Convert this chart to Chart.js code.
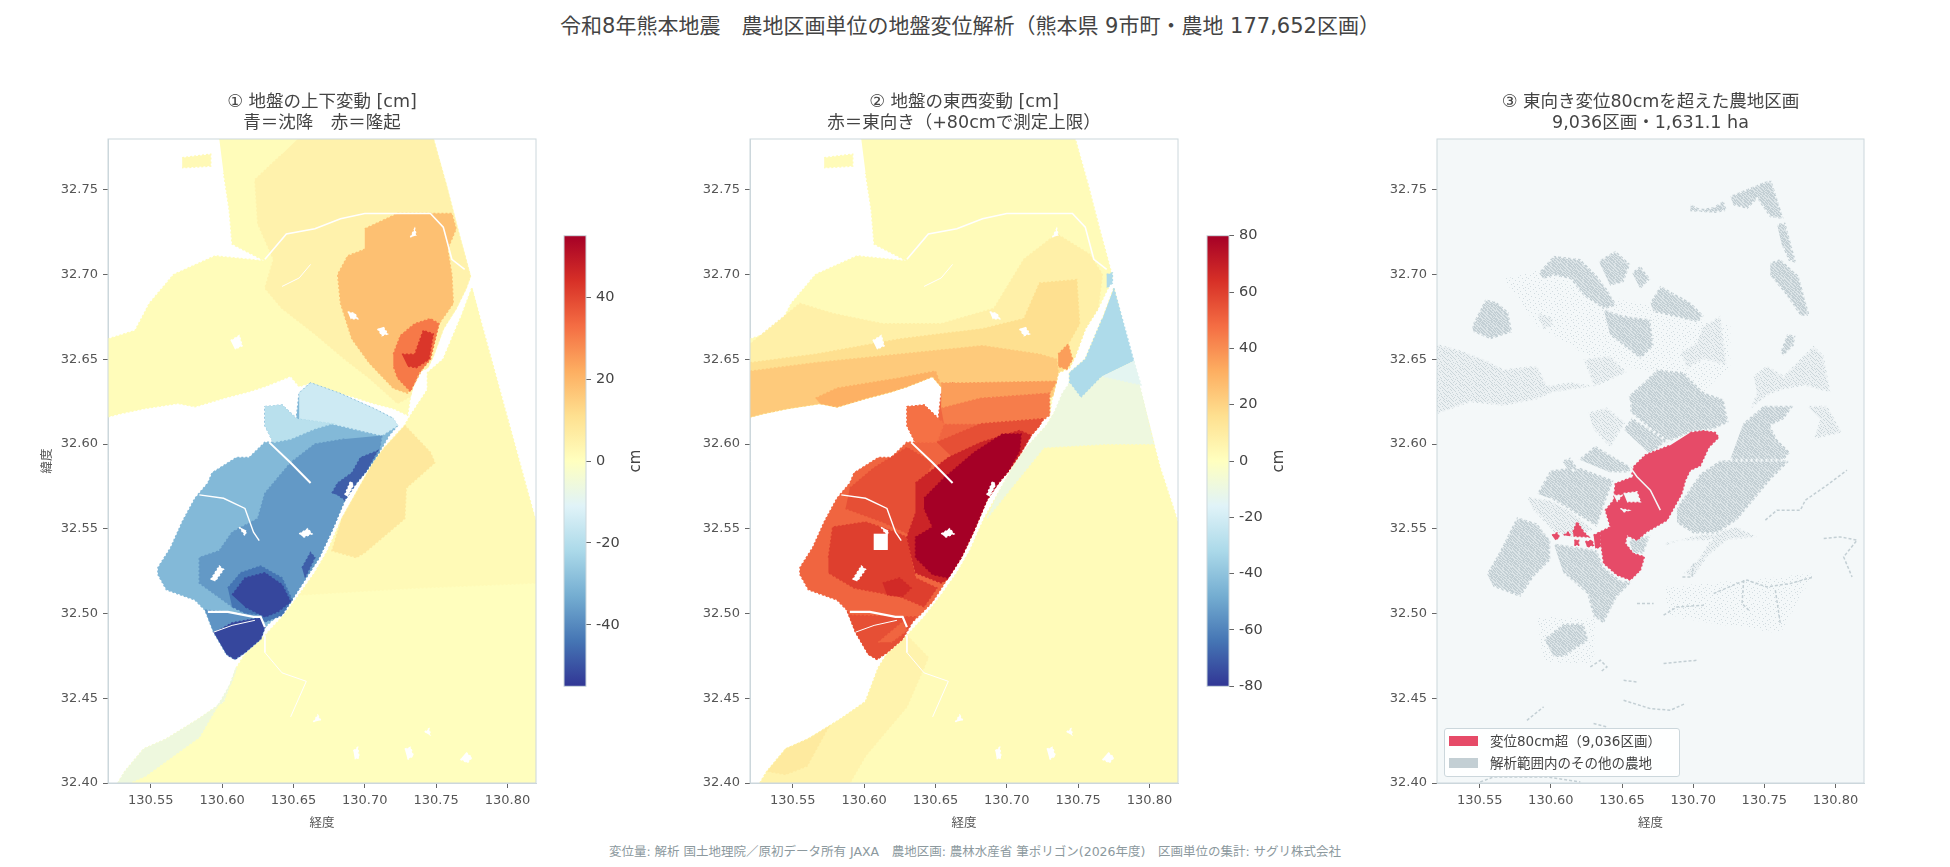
<!DOCTYPE html>
<html lang="ja">
<head>
<meta charset="utf-8">
<title>令和8年熊本地震 地盤変位解析</title>
<script src="https://cdn.jsdelivr.net/npm/chart.js@4/dist/chart.umd.min.js"></script>
<style>
  html, body { margin: 0; padding: 0; background: #fff; width: 1950px; height: 867px; overflow: hidden; }
  body { font-family: "DejaVu Sans", "Noto Sans CJK JP", sans-serif; position: relative; }
  .box { position: absolute; }
  #suptitle { position: absolute; left: 0; width: 1940px; top: 12px; text-align: center; font-size: 21px; line-height: 28px; color: #444; }
  #source { position: absolute; left: 0; width: 1950px; top: 843px; text-align: center; font-size: 12.5px; line-height: 17px; color: #8c999e; }
  #legend { position: absolute; left: 1444px; top: 728px; width: 234px; height: 47px; background: rgba(255,255,255,.9); border: 1px solid #ccd7dc; border-radius: 3px; font-size: 13.5px; color: #444; }
  #legend div { position: absolute; left: 45px; line-height: 20px; white-space: nowrap; }
  #legend i { position: absolute; left: 4px; width: 29px; height: 10px; }
</style>
</head>
<body>
<div id="suptitle">令和8年熊本地震　農地区画単位の地盤変位解析（熊本県 9市町・農地 177,652区画）</div>
<div class="box" style="left:0;top:80px;width:644px;height:753px"><canvas id="panelVertical"></canvas></div>
<div class="box" style="left:642px;top:80px;width:644px;height:753px"><canvas id="panelEast"></canvas></div>
<div class="box" style="left:1352px;top:80px;width:597px;height:753px"><canvas id="panelOver"></canvas></div>
<div class="box" style="left:556px;top:222px;width:100px;height:478px"><canvas id="barVertical"></canvas></div>
<div class="box" style="left:1199px;top:222px;width:100px;height:478px"><canvas id="barEast"></canvas></div>
<div id="legend">
  <i style="top:7px;background:#e64b68"></i><div style="top:2px">変位80cm超（9,036区画）</div>
  <i style="top:29px;background:#c3cfd4"></i><div style="top:24px">解析範囲内のその他の農地</div>
</div>
<div id="source">変位量: 解析 国土地理院／原初データ所有 JAXA　農地区画: 農林水産省 筆ポリゴン(2026年度)　区画単位の集計: サグリ株式会社</div>

<script>
const lonTicks = [130.55, 130.6, 130.65, 130.7, 130.75, 130.8];
const latTicks = [32.4, 32.45, 32.5, 32.55, 32.6, 32.65, 32.7, 32.75];
const verticalBarTicks = [-40, -20, 0, 20, 40];
const eastBarTicks = [-80, -60, -40, -20, 0, 20, 40, 60, 80];
const rdYlBu = ["#313695", "#4575b4", "#74add1", "#abd9e9", "#e0f3f8", "#ffffbf", "#fee090", "#fdae61", "#f46d43", "#d73027", "#a50026"];

// land outlines, [lon, lat]
const landNorth = [[130.598,32.78],[130.748,32.78],[130.757,32.753],[130.765,32.727],[130.774,32.699],[130.771,32.692],[130.764,32.68],[130.755,32.668],[130.748,32.652],[130.744,32.645],[130.736,32.642],[130.732,32.628],[130.73,32.617],[130.72,32.621],[130.706,32.624],[130.691,32.628],[130.677,32.631],[130.662,32.636],[130.654,32.634],[130.648,32.64],[130.63,32.634],[130.619,32.631],[130.601,32.627],[130.581,32.622],[130.569,32.624],[130.546,32.621],[130.529,32.618],[130.52,32.616],[130.52,32.662],[130.539,32.667],[130.549,32.683],[130.566,32.7],[130.595,32.711],[130.63,32.708],[130.607,32.718],[130.605,32.738],[130.601,32.76]];
const landSouthEast = [[130.82,32.4],[130.82,32.554],[130.8075,32.586],[130.793,32.633],[130.784,32.662],[130.775,32.692],[130.767,32.674],[130.761,32.662],[130.755,32.65],[130.744,32.642],[130.744,32.632],[130.733,32.618],[130.728,32.611],[130.715,32.599],[130.706,32.589],[130.694,32.571],[130.684,32.556],[130.674,32.537],[130.665,32.524],[130.654,32.511],[130.642,32.498],[130.63,32.487],[130.616,32.476],[130.61,32.468],[130.601,32.448],[130.584,32.438],[130.561,32.426],[130.545,32.42],[130.532,32.407],[130.527,32.4]];
const landSouthWest = [[130.723,32.611],[130.717,32.605],[130.71,32.595],[130.701,32.584],[130.694,32.577],[130.686,32.567],[130.677,32.549],[130.668,32.533],[130.658,32.52],[130.648,32.507],[130.639,32.499],[130.63,32.492],[130.627,32.485],[130.616,32.477],[130.609,32.473],[130.603,32.476],[130.594,32.489],[130.588,32.502],[130.581,32.508],[130.561,32.514],[130.555,32.523],[130.555,32.527],[130.564,32.539],[130.572,32.554],[130.581,32.568],[130.59,32.577],[130.593,32.583],[130.61,32.592],[130.619,32.592],[130.63,32.601],[130.636,32.601],[130.63,32.611],[130.63,32.622],[130.642,32.623],[130.652,32.615],[130.654,32.63],[130.662,32.636],[130.682,32.63],[130.706,32.621],[130.72,32.615]];
const islandNorth = [[130.572,32.769],[130.592,32.771],[130.592,32.764],[130.572,32.763]];

// panel 1 zones
const upNorthPale = [[130.653,32.78],[130.748,32.78],[130.757,32.753],[130.765,32.727],[130.774,32.699],[130.771,32.692],[130.764,32.68],[130.755,32.668],[130.748,32.652],[130.744,32.645],[130.736,32.642],[130.732,32.628],[130.723,32.624],[130.703,32.639],[130.686,32.65],[130.665,32.665],[130.642,32.68],[130.63,32.692],[130.636,32.709],[130.625,32.73],[130.623,32.756],[130.642,32.771]];
const upNorthMid = [[130.7,32.727],[130.723,32.736],[130.761,32.736],[130.764,32.727],[130.758,32.715],[130.761,32.7],[130.762,32.683],[130.752,32.671],[130.744,32.65],[130.735,32.636],[130.73,32.63],[130.72,32.633],[130.703,32.648],[130.691,32.662],[130.683,32.683],[130.681,32.7],[130.688,32.711],[130.7,32.715]];
const upNorthInner = [[130.72,32.653],[130.725,32.664],[130.735,32.671],[130.746,32.674],[130.752,32.671],[130.746,32.65],[130.738,32.642],[130.732,32.631],[130.723,32.639],[130.72,32.646]];
const upNorthCore = [[130.726,32.653],[130.735,32.653],[130.741,32.667],[130.748,32.665],[130.745,32.65],[130.736,32.645],[130.73,32.646]];
const upEastRim = [[130.775,32.692],[130.82,32.554],[130.82,32.518],[130.735,32.515],[130.654,32.511],[130.665,32.524],[130.674,32.537],[130.684,32.556],[130.694,32.571],[130.706,32.589],[130.715,32.599],[130.728,32.611],[130.733,32.618],[130.744,32.632],[130.744,32.642],[130.755,32.65],[130.761,32.662],[130.767,32.674]];
const upEastPatch = [[130.728,32.611],[130.746,32.595],[130.749,32.589],[130.729,32.574],[130.728,32.556],[130.7,32.536],[130.694,32.533],[130.677,32.537],[130.684,32.556],[130.694,32.571],[130.706,32.589],[130.715,32.599]];
const upWestStrip = [[130.527,32.4],[130.532,32.407],[130.545,32.42],[130.561,32.426],[130.584,32.438],[130.601,32.448],[130.61,32.468],[130.607,32.46],[130.584,32.427],[130.546,32.404],[130.535,32.4]];
const downTopLight = [[130.654,32.63],[130.662,32.636],[130.682,32.63],[130.706,32.621],[130.72,32.615],[130.723,32.611],[130.712,32.605],[130.677,32.612],[130.654,32.615]];
const downLeftLight = [[130.63,32.622],[130.642,32.623],[130.652,32.615],[130.677,32.612],[130.665,32.609],[130.648,32.603],[130.636,32.601],[130.63,32.611]];
const downMid = [[130.712,32.605],[130.71,32.595],[130.701,32.584],[130.694,32.577],[130.686,32.567],[130.677,32.549],[130.668,32.533],[130.658,32.52],[130.648,32.507],[130.639,32.499],[130.63,32.501],[130.607,32.504],[130.584,32.518],[130.584,32.533],[130.598,32.537],[130.607,32.548],[130.625,32.556],[130.63,32.571],[130.648,32.589],[130.665,32.6],[130.686,32.603]];
const downCoastA = [[130.677,32.571],[130.681,32.577],[130.691,32.583],[130.697,32.592],[130.709,32.596],[130.701,32.584],[130.694,32.577],[130.686,32.567],[130.681,32.57]];
const downCoastB = [[130.656,32.527],[130.662,32.536],[130.665,32.533],[130.658,32.521]];
const downBlobOuter = [[130.604,32.515],[130.613,32.524],[130.627,32.528],[130.642,32.521],[130.649,32.508],[130.642,32.499],[130.63,32.495],[130.619,32.499],[130.607,32.504]];
const downBlobInner = [[130.607,32.511],[130.616,32.521],[130.63,32.524],[130.642,32.517],[130.648,32.507],[130.639,32.501],[130.63,32.498],[130.616,32.504]];
const downSouthPiece = [[130.594,32.489],[130.607,32.495],[130.627,32.498],[130.63,32.492],[130.627,32.485],[130.616,32.477],[130.609,32.473],[130.603,32.476]];
const downSouthStrip = [[130.588,32.502],[130.627,32.499],[130.627,32.498],[130.607,32.495],[130.594,32.489]];

// panel 2 zones
const eastBandA = [[130.52,32.659],[130.555,32.683],[130.578,32.677],[130.613,32.671],[130.654,32.671],[130.691,32.68],[130.712,32.709],[130.735,32.724],[130.758,32.712],[130.767,32.7],[130.764,32.68],[130.755,32.668],[130.748,32.652],[130.744,32.645],[130.736,32.642],[130.732,32.628],[130.706,32.624],[130.691,32.628],[130.677,32.631],[130.662,32.636],[130.654,32.634],[130.648,32.64],[130.63,32.634],[130.619,32.631],[130.601,32.627],[130.581,32.622],[130.569,32.624],[130.546,32.621],[130.529,32.618],[130.52,32.616]];
const eastBandB = [[130.52,32.648],[130.566,32.653],[130.625,32.662],[130.683,32.668],[130.712,32.674],[130.723,32.695],[130.749,32.697],[130.751,32.671],[130.741,32.656],[130.736,32.649],[130.74,32.644],[130.736,32.642],[130.732,32.628],[130.706,32.624],[130.691,32.628],[130.677,32.631],[130.662,32.636],[130.654,32.634],[130.648,32.64],[130.63,32.634],[130.619,32.631],[130.601,32.627],[130.581,32.622],[130.569,32.624],[130.546,32.621],[130.529,32.618],[130.52,32.616]];
const eastBandC = [[130.52,32.643],[130.566,32.648],[130.625,32.653],[130.683,32.658],[130.723,32.653],[130.735,32.65],[130.736,32.642],[130.732,32.628],[130.706,32.624],[130.691,32.628],[130.677,32.631],[130.662,32.636],[130.654,32.634],[130.648,32.64],[130.63,32.634],[130.619,32.631],[130.601,32.627],[130.581,32.622],[130.569,32.624],[130.546,32.621],[130.529,32.618],[130.52,32.616]];
const eastBandD = [[130.566,32.627],[130.581,32.633],[130.625,32.639],[130.65,32.643],[130.654,32.634],[130.648,32.64],[130.63,32.634],[130.619,32.631],[130.601,32.627],[130.581,32.622],[130.569,32.624]];
const eastSpot = [[130.736,32.653],[130.743,32.659],[130.746,32.65],[130.742,32.644],[130.736,32.646]];
const eastTop36 = [[130.654,32.636],[130.668,32.636],[130.735,32.637],[130.73,32.63],[130.682,32.627],[130.654,32.621]];
const eastTop44 = [[130.654,32.621],[130.682,32.627],[130.73,32.63],[130.73,32.617],[130.72,32.611],[130.682,32.612],[130.656,32.612]];
const eastLeft47 = [[130.63,32.622],[130.642,32.623],[130.652,32.615],[130.656,32.612],[130.651,32.601],[130.636,32.601],[130.63,32.611]];
const eastBand56 = [[130.651,32.601],[130.682,32.612],[130.726,32.615],[130.723,32.611],[130.717,32.605],[130.682,32.601],[130.662,32.592]];
const eastBand68 = [[130.636,32.577],[130.659,32.592],[130.682,32.601],[130.709,32.608],[130.717,32.605],[130.71,32.595],[130.701,32.584],[130.694,32.577],[130.686,32.567],[130.677,32.549],[130.668,32.533],[130.658,32.52],[130.654,32.518],[130.636,32.524],[130.63,32.545],[130.636,32.559]];
const eastCore80 = [[130.642,32.568],[130.656,32.58],[130.677,32.595],[130.697,32.606],[130.71,32.606],[130.709,32.596],[130.701,32.584],[130.694,32.577],[130.686,32.567],[130.677,32.549],[130.668,32.533],[130.659,32.521],[130.648,32.523],[130.636,32.533],[130.636,32.545],[130.648,32.551],[130.642,32.562]];
const eastWest60 = [[130.575,32.533],[130.578,32.551],[130.601,32.554],[130.622,32.548],[130.63,32.545],[130.636,32.521],[130.651,32.515],[130.642,32.504],[130.625,32.51],[130.593,32.515],[130.575,32.524]];
const eastInner66 = [[130.613,32.518],[130.625,32.521],[130.633,32.515],[130.627,32.51],[130.616,32.511]];
const eastNorth56 = [[130.59,32.574],[130.607,32.586],[130.63,32.598],[130.648,32.589],[130.639,32.574],[130.636,32.545],[130.613,32.554],[130.587,32.562]];
const eastSouth56 = [[130.59,32.499],[130.636,32.498],[130.627,32.485],[130.616,32.477],[130.609,32.473],[130.603,32.476],[130.594,32.489],[130.588,32.502]];
const eastSouth50 = [[130.61,32.483],[130.627,32.495],[130.63,32.49],[130.619,32.483]];
const eastBlue = [[130.775,32.692],[130.789,32.649],[130.767,32.64],[130.752,32.627],[130.744,32.636],[130.744,32.642],[130.755,32.65],[130.761,32.662],[130.767,32.674]];
const eastBlueTip = [[130.77,32.7],[130.774,32.701],[130.774,32.695],[130.77,32.692]];
const eastPaleBand = [[130.789,32.649],[130.803,32.6],[130.77,32.6],[130.726,32.598],[130.706,32.577],[130.686,32.556],[130.694,32.571],[130.706,32.589],[130.715,32.599],[130.728,32.611],[130.733,32.618],[130.739,32.63],[130.744,32.636],[130.752,32.627],[130.767,32.64]];
const eastPaleBlue = [[130.789,32.649],[130.794,32.635],[130.767,32.64]];
const eastSouthPale = [[130.527,32.4],[130.532,32.407],[130.545,32.42],[130.561,32.426],[130.584,32.438],[130.601,32.448],[130.61,32.468],[130.616,32.476],[130.63,32.487],[130.645,32.474],[130.63,32.445],[130.601,32.416],[130.59,32.4]];
const eastSouthWarm = [[130.545,32.42],[130.561,32.426],[130.575,32.433],[130.56,32.41],[130.545,32.405],[130.532,32.407]];
const eastHole = [[130.6067,32.5471],[130.6166,32.5471],[130.6166,32.5375],[130.6067,32.5375]];

// rivers and gaps, shared by panels 1 and 2
const riverNorth = [[130.63,32.709],[130.645,32.724],[130.665,32.727],[130.683,32.733],[130.7,32.736],[130.723,32.736],[130.746,32.736],[130.755,32.728],[130.761,32.709],[130.77,32.703]];
const riverTributary = [[130.642,32.693],[130.654,32.698],[130.662,32.706]];
const riverDiagonal = [[130.633,32.601],[130.648,32.589],[130.662,32.577]];
const riverWest = [[130.584,32.57],[130.601,32.568],[130.616,32.562],[130.622,32.548],[130.626,32.543]];
const riverSouth = [[130.59,32.501],[130.604,32.501],[130.622,32.498],[130.627,32.498],[130.63,32.492]];
const riverSouthBranch = [[130.594,32.489],[130.607,32.493],[130.623,32.496]];
const riverSouthEast = [[130.63,32.487],[130.63,32.477],[130.642,32.465],[130.659,32.46],[130.648,32.439]];
const holeSpots = [
  [[130.767,32.414],[130.772,32.412],[130.775,32.415],[130.771,32.418]],
  [[130.728,32.42],[130.732,32.421],[130.734,32.416],[130.73,32.414]],
  [[130.692,32.419],[130.695,32.421],[130.696,32.415],[130.693,32.414]],
  [[130.742,32.43],[130.745,32.432],[130.746,32.428]],
  [[130.664,32.436],[130.667,32.44],[130.669,32.437]],
  [[130.606,32.661],[130.612,32.664],[130.614,32.658],[130.609,32.656]],
  [[130.709,32.668],[130.712,32.664],[130.716,32.665],[130.713,32.669]],
  [[130.688,32.678],[130.693,32.677],[130.695,32.674],[130.69,32.674]],
  [[130.732,32.722],[130.735,32.727],[130.736,32.723]],
  [[130.654,32.547],[130.66,32.55],[130.663,32.547],[130.657,32.545]],
  [[130.592,32.52],[130.598,32.528],[130.601,32.526],[130.595,32.519]],
  [[130.686,32.57],[130.69,32.578],[130.692,32.576],[130.688,32.569]],
  [[130.612,32.551],[130.616,32.546],[130.617,32.549]],
];

// panel 3 farmland clusters
const farmDense = [
  [[130.726,32.7465],[130.738,32.7505],[130.752,32.7554],[130.755,32.7554],[130.7636,32.7328],[130.754,32.7338],[130.745,32.7446],[130.738,32.7387],[130.7284,32.7407]],
  [[130.698,32.7416],[130.705,32.7387],[130.714,32.7397],[130.7214,32.7436],[130.7237,32.7377],[130.7155,32.7363],[130.698,32.7373]],
  [[130.7589,32.7298],[130.7647,32.7308],[130.7725,32.7068],[130.7671,32.7082],[130.7624,32.717]],
  [[130.7542,32.7072],[130.7612,32.7092],[130.7741,32.6993],[130.7818,32.6757],[130.7753,32.6757],[130.7647,32.6885],[130.7542,32.6993]],
  [[130.5446,32.6698],[130.554,32.6855],[130.5622,32.6836],[130.5703,32.6777],[130.5727,32.6659],[130.5575,32.6619],[130.5458,32.6659]],
  [[130.5914,32.7013],[130.602,32.7111],[130.6207,32.7092],[130.6324,32.6993],[130.6394,32.6915],[130.6465,32.6816],[130.6371,32.6796],[130.623,32.6875],[130.6137,32.6974],[130.602,32.6993],[130.5949,32.6974]],
  [[130.6336,32.7082],[130.6453,32.7141],[130.6558,32.7062],[130.6511,32.6954],[130.6418,32.6934]],
  [[130.657,32.7013],[130.6629,32.7052],[130.6699,32.6974],[130.6629,32.6915]],
  [[130.6699,32.6836],[130.6769,32.6934],[130.698,32.6836],[130.7074,32.6757],[130.7027,32.6718],[130.6839,32.6757],[130.6722,32.6777]],
  [[130.6371,32.6796],[130.6511,32.6757],[130.6699,32.6737],[130.6722,32.658],[130.6629,32.6501],[130.6511,32.658],[130.6418,32.6639]],
  [[130.6547,32.6285],[130.6675,32.6383],[130.6746,32.6442],[130.6933,32.6423],[130.7074,32.6305],[130.7214,32.6265],[130.7249,32.6127],[130.7144,32.6088],[130.698,32.6068],[130.6816,32.6009],[130.6558,32.6186],[130.6558,32.6246]],
  [[130.6511,32.6088],[130.657,32.6157],[130.6816,32.6019],[130.6699,32.594]],
  [[130.7612,32.6541],[130.7659,32.6649],[130.7718,32.6639],[130.7706,32.658],[130.7636,32.6521]],
  [[130.5551,32.5236],[130.5645,32.5374],[130.5762,32.557],[130.5903,32.5531],[130.5996,32.5433],[130.5996,32.5315],[130.5879,32.5216],[130.5785,32.5098],[130.5598,32.5157]],
  [[130.5903,32.5708],[130.5996,32.5846],[130.6184,32.5866],[130.6441,32.5787],[130.6371,32.563],[130.6324,32.5511],[130.6137,32.561],[130.5996,32.5679]],
  [[130.6195,32.5911],[130.6312,32.599],[130.657,32.5862],[130.6547,32.5832],[130.6418,32.5832]],
  [[130.6078,32.5901],[130.6137,32.5921],[130.6184,32.5862],[130.6137,32.5832]],
  [[130.602,32.5413],[130.6184,32.5393],[130.6324,32.5374],[130.6371,32.5275],[130.6488,32.5197],[130.657,32.5187],[130.6465,32.5098],[130.6371,32.4941],[130.63,32.498],[130.6254,32.5118],[130.609,32.5236]],
  [[130.6547,32.5433],[130.6699,32.5462],[130.6652,32.5354],[130.6582,32.5354]],
  [[130.5954,32.4852],[130.609,32.4941],[130.623,32.4941],[130.6266,32.4842],[130.609,32.4744],[130.602,32.4744]],
  [[130.7355,32.6127],[130.7495,32.6226],[130.7706,32.6226],[130.7636,32.6147],[130.7542,32.6108],[130.7589,32.6029],[130.7682,32.595],[130.7589,32.5862],[130.7355,32.5852],[130.7261,32.5911]],
  [[130.6886,32.5629],[130.705,32.5826],[130.7191,32.5905],[130.7682,32.5905],[130.7542,32.5787],[130.7425,32.5669],[130.7308,32.5551],[130.7167,32.5472],[130.7003,32.5472],[130.6886,32.5531]],
];
const farmSparse = [
  [[130.52,32.659],[130.534,32.656],[130.5528,32.6501],[130.5668,32.6442],[130.5903,32.6462],[130.5973,32.6344],[130.6137,32.6364],[130.63,32.6344],[130.623,32.6501],[130.6418,32.6521],[130.6535,32.6423],[130.6324,32.6344],[130.602,32.6305],[130.5903,32.6265],[130.5668,32.6226],[130.5434,32.6246],[130.52,32.6177]],
  [[130.5903,32.6777],[130.6008,32.6747],[130.602,32.6698],[130.5949,32.6678]],
  [[130.7074,32.6698],[130.7191,32.6757],[130.7214,32.6619],[130.7237,32.6462],[130.7074,32.6501],[130.6956,32.6442],[130.691,32.6541],[130.7027,32.66]],
  [[130.6266,32.6186],[130.6394,32.6216],[130.6523,32.6127],[130.6418,32.598],[130.63,32.6088]],
  [[130.7425,32.6403],[130.7518,32.6462],[130.7636,32.6403],[130.7846,32.658],[130.7917,32.6521],[130.7963,32.6305],[130.7776,32.6344],[130.7636,32.6324],[130.7518,32.6285],[130.7401,32.6206],[130.7448,32.6305]],
  [[130.78,32.6226],[130.794,32.6226],[130.8045,32.6068],[130.7846,32.6029],[130.7893,32.6147]],
  [[130.5832,32.5689],[130.5996,32.5669],[130.6137,32.561],[130.63,32.5492],[130.6137,32.5452],[130.602,32.5482],[130.5879,32.561]],
  [[130.6792,32.5413],[130.698,32.5452],[130.7191,32.5492],[130.7308,32.5511],[130.7448,32.5452],[130.7237,32.5433],[130.7097,32.5334],[130.7003,32.5216],[130.6933,32.5236],[130.705,32.5334],[130.712,32.5433],[130.691,32.5433],[130.6816,32.5403]],
];
const farmFaint = [
  [[130.5668,32.6974],[130.5903,32.7033],[130.6371,32.6875],[130.6722,32.6816],[130.7074,32.6737],[130.7261,32.6698],[130.7261,32.6442],[130.7074,32.6305],[130.6699,32.6423],[130.6511,32.6462],[130.6254,32.6521],[130.5903,32.6698]],
  [[130.6792,32.5157],[130.7846,32.5236],[130.7612,32.4882],[130.6839,32.498]],
  [[130.5903,32.498],[130.6324,32.498],[130.63,32.4705],[130.5949,32.4705]],
];
const farmTrails = [
  [[130.7507,32.5551],[130.7589,32.561],[130.7753,32.561],[130.7788,32.5669],[130.794,32.5757],[130.808,32.5846]],
  [[130.7917,32.5443],[130.8034,32.5452],[130.8151,32.5433],[130.8057,32.5334],[130.8116,32.5216]],
  [[130.7144,32.5118],[130.7308,32.5177],[130.7378,32.5197],[130.7518,32.5157],[130.7682,32.5177],[130.7846,32.5216]],
  [[130.7355,32.5197],[130.7343,32.5059],[130.739,32.502]],
  [[130.7577,32.5138],[130.7612,32.4941]],
  [[130.6277,32.4685],[130.6348,32.4724],[130.6394,32.4685],[130.6348,32.4655]],
  [[130.6792,32.4705],[130.691,32.4715],[130.7027,32.4724]],
  [[130.6511,32.4488],[130.6699,32.4439],[130.6839,32.4429],[130.6945,32.4469]],
  [[130.6511,32.4606],[130.6605,32.4596]],
  [[130.5832,32.437],[130.5949,32.4449]],
  [[130.5504,32.4006],[130.5598,32.4036],[130.5973,32.4036],[130.6207,32.4006]],
  [[130.6605,32.5059],[130.6722,32.5059]],
  [[130.6792,32.499],[130.6886,32.5039],[130.7074,32.5049]],
  [[130.63,32.4351],[130.6394,32.4331]],
  [[130.7003,32.5295],[130.6991,32.5216],[130.6921,32.5216]],
];
const overMain = [[130.698,32.6068],[130.7074,32.6078],[130.7155,32.6068],[130.7179,32.6039],[130.7109,32.598],[130.705,32.5872],[130.698,32.5846],[130.6945,32.5787],[130.692,32.5708],[130.6816,32.5551],[130.6675,32.5482],[130.6605,32.5433],[130.6535,32.5462],[130.6523,32.5413],[130.658,32.5354],[130.6657,32.5335],[130.6629,32.5256],[130.6558,32.5198],[130.6465,32.5227],[130.6371,32.5296],[130.6348,32.5433],[130.6348,32.5482],[130.6418,32.5511],[130.6383,32.561],[130.6441,32.5669],[130.6453,32.5767],[130.6582,32.5807],[130.657,32.5826],[130.6582,32.5867],[130.6664,32.5936],[130.6839,32.5993]];
const overSpots = [
  [[130.6008,32.5462],[130.6043,32.5476],[130.606,32.5452],[130.6032,32.5433]],
  [[130.609,32.5462],[130.6125,32.5482],[130.6137,32.5456]],
  [[130.6155,32.5482],[130.6184,32.5541],[130.623,32.5482],[130.6266,32.5452],[130.616,32.5456]],
  [[130.6165,32.5433],[130.6195,32.5433],[130.6195,32.5403],[130.6165,32.5403]],
  [[130.6242,32.5423],[130.6289,32.5433],[130.63,32.5403],[130.6254,32.5393]],
  [[130.63,32.5462],[130.6347,32.5482],[130.6347,32.5393],[130.6312,32.5384]],
];
const overGaps = [
  [[130.6511,32.5708],[130.6605,32.5718],[130.6629,32.5659],[130.6535,32.5659]],
  [[130.6441,32.5698],[130.65,32.5698],[130.6465,32.5659]],
  [[130.6488,32.5619],[130.6547,32.5609],[130.6511,32.5599]],
];
const overRiver = [[130.6547,32.5875],[130.6605,32.5807],[130.6699,32.5728],[130.6769,32.561]];

const fontFamily = '"DejaVu Sans", "Noto Sans CJK JP", sans-serif';
const spineColor = "#ccd7dc";
const farmColor = "#c3cfd4";
const panelBack = "#f4f8f9";
const overColor = "#e64b68";

const cmapColor = (value, vmax) => {
  const t = Math.min(1, Math.max(0, (value + vmax) / (2 * vmax))) * (rdYlBu.length - 1);
  const i = Math.min(rdYlBu.length - 2, Math.floor(t));
  const hex = (c) => [1, 3, 5].map((k) => parseInt(c.slice(k, k + 2), 16));
  const a = hex(rdYlBu[i]);
  const b = hex(rdYlBu[i + 1]);
  const mix = a.map((v, k) => Math.round(v + (b[k] - v) * (t - i)));
  return `rgb(${mix.join(",")})`;
};

const toXY = (points) => points.map(([x, y]) => ({ x, y }));

// the dashed border frays the straight polygon edges a little
const polygon = (points, color, edge) => ({
  data: toXY(points),
  showLine: true,
  fill: "shape",
  backgroundColor: color,
  borderColor: edge || color,
  borderWidth: edge ? 3 : 1.5,
  borderDash: edge ? [2, 3] : [2, 2],
  borderCapStyle: "butt",
  pointRadius: 0,
  tension: 0,
});

const line = (points, color, width, dash) => ({
  data: toXY(points),
  showLine: true,
  fill: false,
  borderColor: color,
  borderWidth: width,
  borderDash: dash || [],
  pointRadius: 0,
  tension: 0,
});

const riverLines = (color) => [
  line(riverNorth, color, 1.6),
  line(riverTributary, color, 1),
  line(riverDiagonal, color, 2),
  line(riverWest, color, 1.4),
  line(riverSouth, color, 2.2),
  line(riverSouthBranch, color, 1),
  line(riverSouthEast, color, 1),
];

const frameAndBackground = (background) => ({
  id: "frameAndBackground",
  beforeDatasetsDraw(chart) {
    if (!background) return;
    const { ctx, chartArea: a } = chart;
    ctx.save();
    ctx.fillStyle = background;
    ctx.fillRect(a.left, a.top, a.width, a.height);
    ctx.restore();
  },
  afterDraw(chart) {
    const { ctx, chartArea: a } = chart;
    ctx.save();
    ctx.strokeStyle = spineColor;
    ctx.lineWidth = 1;
    ctx.strokeRect(a.left, a.top, a.width, a.height);
    ctx.restore();
  },
});

const panelConfig = (titleLines, datasets, sideWidth, yTitle, background) => ({
  type: "scatter",
  data: { datasets: [...datasets].reverse() },
  plugins: [frameAndBackground(background)],
  options: {
    responsive: true,
    maintainAspectRatio: false,
    animation: false,
    devicePixelRatio: 1,
    layout: { autoPadding: false, padding: 0 },
    plugins: {
      legend: { display: false },
      tooltip: { enabled: false },
      title: {
        display: true,
        text: titleLines,
        color: "#444",
        font: { family: fontFamily, size: 17.5, weight: "normal", lineHeight: 1.2 },
        padding: { top: 12, bottom: 5 },
      },
    },
    scales: {
      x: {
        type: "linear",
        min: 130.52,
        max: 130.82,
        afterBuildTicks: (s) => { s.ticks = lonTicks.map((value) => ({ value })); },
        afterFit: (s) => { s.height = 50; },
        grid: { drawOnChartArea: false, tickLength: 5, tickColor: "#666" },
        border: { color: spineColor },
        ticks: { color: "#555", font: { family: fontFamily, size: 13 }, padding: 5, maxRotation: 0, callback: (v) => v.toFixed(2) },
        title: { display: true, text: "経度", color: "#555", font: { family: fontFamily, size: 12.5 }, padding: { top: 0, bottom: 2 } },
      },
      y: {
        type: "linear",
        min: 32.4,
        max: 32.78,
        afterBuildTicks: (s) => { s.ticks = latTicks.map((value) => ({ value })); },
        afterFit: (s) => { s.width = sideWidth; },
        grid: { drawOnChartArea: false, tickLength: 5, tickColor: "#666" },
        border: { color: spineColor },
        ticks: { color: "#555", font: { family: fontFamily, size: 13 }, padding: 5, callback: (v) => v.toFixed(2) },
        title: { display: yTitle, text: "緯度", color: "#555", font: { family: fontFamily, size: 12.5 }, padding: { top: 40, bottom: 0 } },
      },
      // empty axis on the right, keeps the plot centred under the title
      spacer: {
        type: "linear",
        position: "right",
        afterFit: (s) => { s.width = sideWidth; },
        grid: { display: false },
        border: { display: false },
        ticks: { display: false },
      },
    },
  },
});

const barConfig = (vmax, barTicks) => ({
  type: "bar",
  data: {
    labels: ["cm"],
    datasets: [{
      data: [[-vmax, vmax]],
      barPercentage: 1,
      categoryPercentage: 1,
      borderWidth: 0,
      backgroundColor: (c) => {
        const area = c.chart.chartArea;
        if (!area) return rdYlBu[5];
        const g = c.chart.ctx.createLinearGradient(0, area.bottom, 0, area.top);
        rdYlBu.forEach((color, i) => g.addColorStop(i / (rdYlBu.length - 1), color));
        return g;
      },
    }],
  },
  plugins: [
    frameAndBackground(null),
    {
      id: "barLabel",
      afterDraw(chart) {
        const { ctx, chartArea: a } = chart;
        ctx.save();
        ctx.translate(a.right + 50, (a.top + a.bottom) / 2);
        ctx.rotate(-Math.PI / 2);
        ctx.textAlign = "center";
        ctx.textBaseline = "middle";
        ctx.fillStyle = "#444";
        ctx.font = `15px ${fontFamily}`;
        ctx.fillText("cm", 0, 0);
        ctx.restore();
      },
    },
  ],
  options: {
    responsive: true,
    maintainAspectRatio: false,
    animation: false,
    devicePixelRatio: 1,
    layout: { padding: { left: 8, right: 0, top: 0, bottom: 0 } },
    plugins: { legend: { display: false }, tooltip: { enabled: false } },
    scales: {
      x: { display: false },
      y: {
        position: "right",
        min: -vmax,
        max: vmax,
        afterBuildTicks: (s) => { s.ticks = barTicks.map((value) => ({ value })); },
        afterFit: (s) => { s.width = 70; },
        grid: { drawOnChartArea: false, tickLength: 5, tickColor: "#666" },
        border: { display: false },
        ticks: { color: "#444", font: { family: fontFamily, size: 14.5 }, padding: 5 },
      },
    },
  },
});

const dotTile = (rows, ground, color) => {
  const tile = document.createElement("canvas");
  tile.width = rows[0].length;
  tile.height = rows.length;
  const c = tile.getContext("2d");
  if (ground) {
    c.fillStyle = ground;
    c.fillRect(0, 0, tile.width, tile.height);
  }
  c.fillStyle = color;
  rows.forEach((row, y) => [...row].forEach((cell, x) => { if (cell === "1") c.fillRect(x, y, 1, 1); }));
  return document.createElement("canvas").getContext("2d").createPattern(tile, "repeat");
};

const denseDots = dotTile([
  "1101101001110110", "1010110110011011", "0111001011011001", "1011101100100110",
  "0101110010110011", "0110011011001001", "0011011001101100", "1001100110110010",
  "1100110011011011", "0110010011100101", "1011001001110110", "0101100110011011",
  "0110110011001101", "0011001001101010", "1001101100110111", "1100010110011001",
], "#dce4e7", farmColor);
const sparseDots = dotTile([
  "1000100100010010", "0100010000001001", "0010000001000100", "1001000100100000",
  "0000100010010001", "0010010000001000", "0001001000100100", "1000000100000010",
  "0100100000010001", "0010000010001000", "0000010001000100", "1001000100000010",
  "0000100001001001", "0100001000100000", "0010010000010010", "0001000010001000",
], "#ebf0f2", "#cbd6da");
const faintDots = dotTile([
  "1000000000010000", "0000010000000000", "0000000000000100", "0010000010000000",
  "0000000000000000", "0000001000000010", "1000000000100000", "0000000000000000",
  "0001000000000100", "0000000100000000", "0000000000010000", "0100000000000000",
  "0000010000000001", "0000000000100000", "0010000000000000", "0000000100000100",
], null, "#d3dde1");

const up = (v) => cmapColor(v, 55);
const east = (v) => cmapColor(v, 80);

const verticalDatasets = [
  polygon(landNorth, up(1.2)),
  polygon(islandNorth, up(2)),
  polygon(upNorthPale, up(4.5)),
  polygon(upNorthMid, up(18)),
  polygon(upNorthInner, up(31)),
  polygon(upNorthCore, up(43)),
  polygon(landSouthEast, up(0.3)),
  polygon(upEastRim, up(1.8)),
  polygon(upEastPatch, up(8)),
  polygon(upWestStrip, up(-6)),
  polygon(landSouthWest, up(-30)),
  polygon(downTopLight, up(-15)),
  polygon(downLeftLight, up(-19)),
  polygon(downMid, up(-37)),
  polygon(downCoastA, up(-48)),
  polygon(downCoastB, up(-48)),
  polygon(downBlobOuter, up(-44)),
  polygon(downBlobInner, up(-52)),
  polygon(downSouthPiece, up(-52)),
  polygon(downSouthStrip, up(-38)),
  ...riverLines("#fff"),
  ...holeSpots.map((spot) => polygon(spot, "#fff")),
];

const eastDatasets = [
  polygon(landNorth, east(2)),
  polygon(islandNorth, east(2)),
  polygon(eastBandA, east(8)),
  polygon(eastBandB, east(16)),
  polygon(eastBandC, east(23)),
  polygon(eastBandD, east(31)),
  polygon(eastSpot, east(36)),
  polygon(landSouthEast, east(2)),
  polygon(eastSouthPale, east(6)),
  polygon(eastSouthWarm, east(11)),
  polygon(eastBlue, east(-31)),
  polygon(eastBlueTip, east(-31)),
  polygon(eastPaleBand, east(-9)),
  polygon(eastPaleBlue, east(-14)),
  polygon(landSouthWest, east(50)),
  polygon(eastTop36, east(36)),
  polygon(eastTop44, east(44)),
  polygon(eastLeft47, east(47)),
  polygon(eastBand56, east(56)),
  polygon(eastNorth56, east(56)),
  polygon(eastWest60, east(60)),
  polygon(eastInner66, east(66)),
  polygon(eastBand68, east(68)),
  polygon(eastCore80, east(80)),
  polygon(eastSouth56, east(56)),
  polygon(eastSouth50, east(50)),
  ...riverLines("#fff"),
  ...holeSpots.map((spot) => polygon(spot, "#fff")),
  { ...polygon(eastHole, "#fff"), borderWidth: 0 },
];

const overDatasets = [
  ...farmFaint.map((cluster) => polygon(cluster, faintDots, panelBack)),
  ...farmSparse.map((cluster) => polygon(cluster, sparseDots, panelBack)),
  ...farmDense.map((cluster) => polygon(cluster, denseDots, panelBack)),
  ...farmTrails.map((trail) => line(trail, farmColor, 1.5, [3, 2])),
  polygon(overMain, overColor),
  ...overSpots.map((spot) => polygon(spot, overColor)),
  ...overGaps.map((gap) => polygon(gap, panelBack)),
  line(overRiver, panelBack, 1.5),
];

new Chart(document.getElementById("panelVertical"), panelConfig(["① 地盤の上下変動 [cm]", "青＝沈降　赤＝隆起"], verticalDatasets, 108, true, null));
new Chart(document.getElementById("panelEast"), panelConfig(["② 地盤の東西変動 [cm]", "赤＝東向き（+80cmで測定上限）"], eastDatasets, 108, false, null));
new Chart(document.getElementById("panelOver"), panelConfig(["③ 東向き変位80cmを超えた農地区画", "9,036区画・1,631.1 ha"], overDatasets, 85, false, panelBack));
new Chart(document.getElementById("barVertical"), barConfig(55, verticalBarTicks));
new Chart(document.getElementById("barEast"), barConfig(80, eastBarTicks));
</script>
</body>
</html>
